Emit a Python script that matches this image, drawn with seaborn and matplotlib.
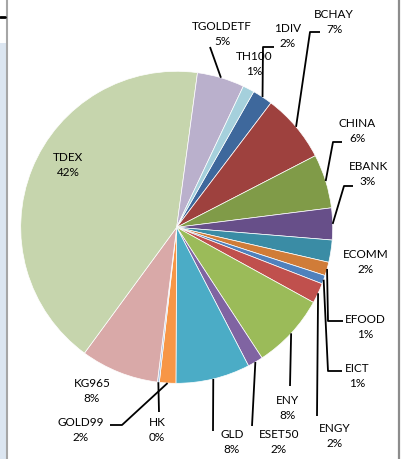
import numpy as np
import matplotlib
matplotlib.use("Agg")
import matplotlib.pyplot as plt
import seaborn as sns
from matplotlib.lines import Line2D
from matplotlib.patches import Rectangle

# ---- data (clockwise order, starting at 1DIV) ----
names = ["1DIV", "BCHAY", "CHINA", "EBANK", "ECOMM", "EFOOD", "EICT", "ENGY",
         "ENY", "ESET50", "GLD", "GOLD99", "HK", "KG965", "TDEX", "TGOLDETF", "TH100"]
values = [2.1, 7.1, 5.6, 3.3, 2.3, 1.4, 0.9, 2.1,
          7.8, 1.6, 7.7, 1.7, 0.2, 8.1, 42.1, 4.9, 1.2]
colors = ["#3E689C", "#9E413E", "#809B48", "#674F89", "#3A8CA5", "#D07C38", "#4F81BD", "#C0504D",
          "#9BBB59", "#8064A2", "#4BACC6", "#F79646", "#A7C0DE", "#D9A9A8", "#C6D5AD", "#BAB0CC", "#A5D0DC"]

sns.set_theme(style="white")
plt.rcParams["font.family"] = ["Lato", "DejaVu Sans"]

W, H = 403, 460
fig = plt.figure(figsize=(W / 100, H / 100), dpi=100)
ax = fig.add_axes([0, 0, 1, 1])

cx, cy, R = 176.7, H - 228.3, 156
wedges, _ = ax.pie(values, colors=colors, startangle=60.4, counterclock=False,
                   center=(cx, cy), radius=R,
                   wedgeprops=dict(edgecolor="white", linewidth=0.5))
ax.set_xlim(0, W)
ax.set_ylim(0, H)
ax.set_aspect("equal")
ax.axis("off")

total = sum(values)

# label layout (pixel coords, y measured from top) and leader elbows
label_pos = {
    "TDEX": (68, 165), "TGOLDETF": (222, 34), "TH100": (254, 64), "1DIV": (288, 36),
    "BCHAY": (334, 22), "CHINA": (357, 131), "EBANK": (368, 174), "ECOMM": (366, 262),
    "EFOOD": (365, 327), "EICT": (357, 376), "ENGY": (335, 436), "ENY": (287, 408),
    "ESET50": (279, 442), "GLD": (232, 442), "HK": (157, 430), "GOLD99": (81, 430),
    "KG965": (92, 391),
}
leaders = {
    "TGOLDETF": [(210, 48)],
    "1DIV": [(274, 48), (263, 48)],
    "BCHAY": [(320, 33), (310, 33)],
    "CHINA": [(342, 143), (333, 143)],
    "EBANK": [(353, 187), (344, 187)],
    "EFOOD": [(343, 322), (328, 322)],
    "EICT": [(342, 372), (328, 372)],
    "ENGY": [(317, 417)],
    "ENY": [(290, 387)],
    "ESET50": [(252, 427)],
    "GLD": [(213, 432)],
    "HK": [(159, 413)],
    "GOLD99": [(110, 426), (122, 426)],
}

for w, name, v in zip(wedges, names, values):
    pct = 100 * v / total
    x, y = label_pos[name]
    ax.text(x, H - y, f"{name}\n{pct:.0f}%", ha="center", va="center",
            fontsize=8.5, color="black", linespacing=1.55)
    if name in leaders:
        mid = np.deg2rad((w.theta1 + w.theta2) / 2)
        ax_pt = (cx + R * np.cos(mid), cy + R * np.sin(mid))
        pts = [(px, H - py) for px, py in leaders[name]] + [ax_pt]
        xs, ys = zip(*pts)
        ax.plot(xs, ys, color="black", lw=1.3, solid_capstyle="butt")

# chart-area frame (spreadsheet screenshot edges)
fig.add_artist(Rectangle((0, 0), 6 / W, 1 - 44 / H, transform=fig.transFigure,
                         facecolor="#DCE6F1", edgecolor="none"))
fig.add_artist(Line2D([7.5 / W, 7.5 / W], [0, 1], transform=fig.transFigure,
                      color="#A6A6A6", lw=1.5))
fig.add_artist(Line2D([398.5 / W, 398.5 / W], [0, 1], transform=fig.transFigure,
                      color="#8C8C8C", lw=1.6))
fig.add_artist(Line2D([0, 5 / W], [1 - 18 / H, 1 - 18 / H], transform=fig.transFigure,
                      color="black", lw=2))

fig.savefig("out.png", dpi=100, facecolor="white")
